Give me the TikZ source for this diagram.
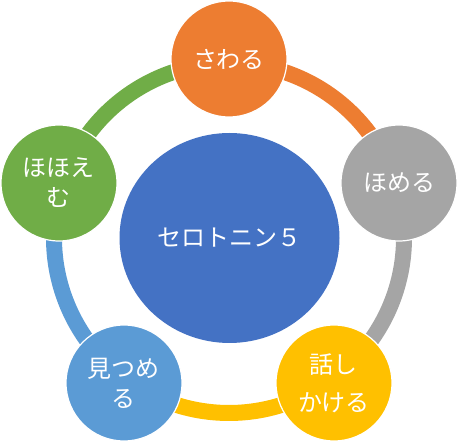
\documentclass[tikz,border=0pt]{standalone}
\usepackage{fontspec}
\newfontfamily\jp{Noto Sans CJK JP}
\definecolor{cOrange}{HTML}{ED7D31}
\definecolor{cGray}{HTML}{A5A5A5}
\definecolor{cYellow}{HTML}{FFC000}
\definecolor{cBlue}{HTML}{5B9BD5}
\definecolor{cGreen}{HTML}{70AD47}
\definecolor{cCenter}{HTML}{4472C4}
\tikzset{
  ringarc/.style={line width=16pt},
  satnode/.style={circle, minimum size=116pt, inner sep=0pt, draw=white, line width=1.2pt,
    text=white, align=center, font=\jp\fontsize{24}{30}\selectfont},
  hubnode/.style={ellipse, minimum width=220pt, minimum height=210pt, inner sep=0pt,
    fill=cCenter, text=white, font=\jp\fontsize{24}{30}\selectfont}
}
\usetikzlibrary{shapes.geometric}
\begin{document}
\begin{tikzpicture}[x=1pt,y=1pt]
\useasboundingbox (0,0) rectangle (459,442);
\coordinate (ring) at (229,204);
% ring arcs
\draw[ringarc, cOrange] (ring) ++(90:175) arc[start angle=90, end angle=17.9, radius=175];
\draw[ringarc, cGray] (ring) ++(17.9:175) arc[start angle=17.9, end angle=-54.1, radius=175];
\draw[ringarc, cYellow] (ring) ++(-54.1:175) arc[start angle=-54.1, end angle=-125.9, radius=175];
\draw[ringarc, cBlue] (ring) ++(-125.9:175) arc[start angle=-125.9, end angle=-197.9, radius=175];
\draw[ringarc, cGreen] (ring) ++(162.1:175) arc[start angle=162.1, end angle=90, radius=175];
% hub
\node[hubnode] (hub) at (229.5,204) {セロトニン５};
% satellites
\node[satnode, fill=cOrange] (top) at (229,383) {さわる};
\node[satnode, fill=cGray] (right) at (399,259) {ほめる};
\node[satnode, fill=cYellow] (br) at (334,59) {話し\\[8pt]かける};
\node[satnode, fill=cBlue] (bl) at (124,59) {見つめ\\る};
\node[satnode, fill=cGreen] (left) at (59,259) {ほほえ\\む};
\end{tikzpicture}
\end{document}
